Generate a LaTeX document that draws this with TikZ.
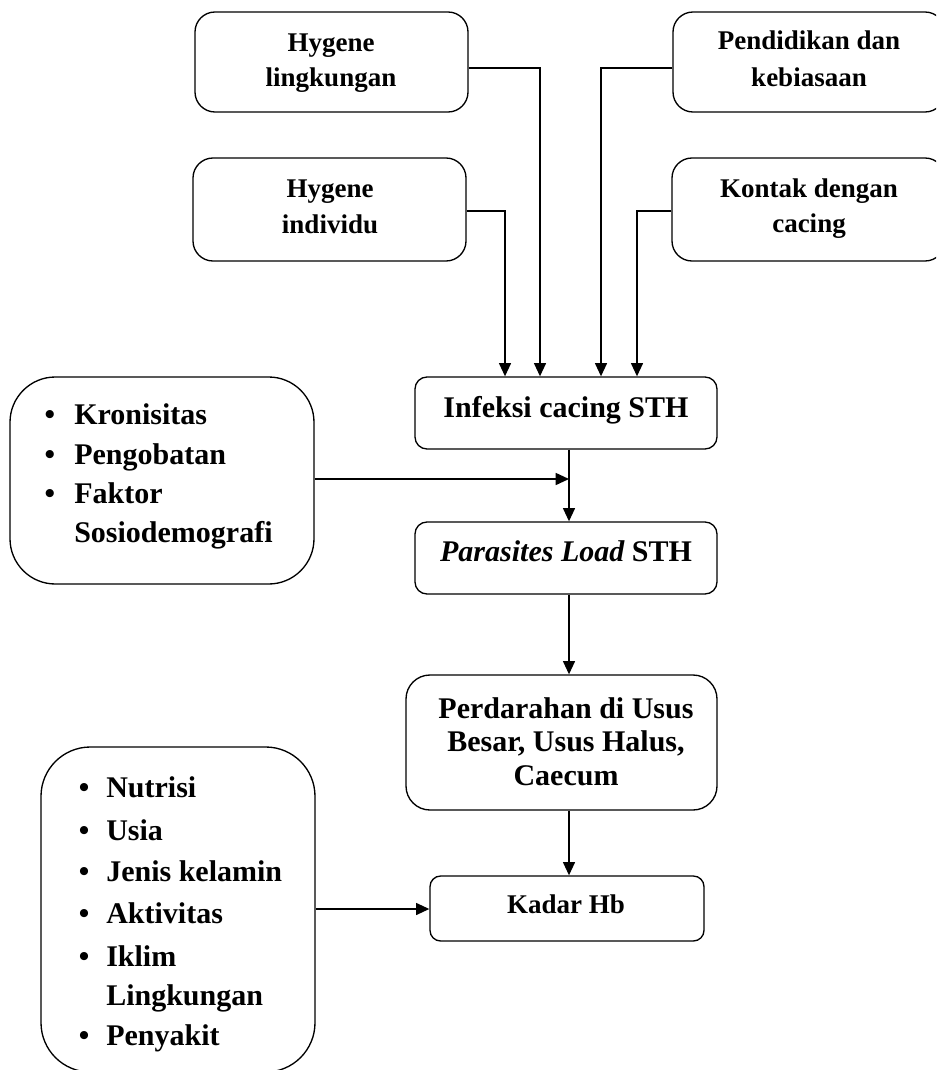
\documentclass[tikz,border=0pt]{standalone}
\usepackage{fontspec}
\setmainfont{Liberation Serif}
\usetikzlibrary{arrows.meta,calc}
\begin{document}
\begin{tikzpicture}[x=0.75pt,y=-0.75pt,
  box/.style={draw,line width=1pt,rounded corners=#1,inner sep=0pt},
  big/.style={font=\fontsize{22.5}{27}\selectfont\bfseries,inner sep=0pt,anchor=base},
  sm/.style={font=\fontsize{20.25}{24}\selectfont\bfseries,inner sep=0pt,anchor=base},
  lst/.style={big,anchor=base west},
  arr/.style={line width=1.2pt,-{Triangle[length=10pt,width=9pt]}}]
\clip (0,0) rectangle (936,1070);
% boxes
\node[box=15pt,minimum width=204.75pt,minimum height=75pt] (hl) at (331.5,62) {};
\node[box=15pt,minimum width=204.75pt,minimum height=77.25pt] (hi) at (329.5,209.5) {};
\node[box=15pt,minimum width=204pt,minimum height=75pt] (pk) at (809,62) {};
\node[box=15pt,minimum width=204.75pt,minimum height=77.25pt] (kc) at (808.5,209.5) {};
\node[box=9pt,minimum width=226.5pt,minimum height=54pt] (inf) at (566,413) {};
\node[box=9pt,minimum width=226.5pt,minimum height=54pt] (par) at (566,558) {};
\node[box=18pt,minimum width=233.25pt,minimum height=101.25pt] (per) at (561.5,742.5) {};
\node[box=8pt,minimum width=205.5pt,minimum height=48.75pt] (kad) at (567,908.5) {};
\node[box=34pt,minimum width=228pt,minimum height=155.25pt] (lb1) at (162,480.5) {};
\node[box=37pt,minimum width=205.5pt,minimum height=243.75pt] (lb2) at (178,909.5) {};
% texts
\node[sm] (t1) at (331,52) {Hygene};
\node[sm] (t2) at (331,87) {lingkungan};
\node[sm] (t3) at (330,197) {Hygene};
\node[sm] (t4) at (330,233) {individu};
\node[sm] (t5) at (809,50) {Pendidikan dan};
\node[sm] (t6) at (809,87) {kebiasaan};
\node[sm] (t7) at (809,197) {Kontak dengan};
\node[sm] (t8) at (809,232) {cacing};
\node[big] (t9) at (566,417) {Infeksi cacing STH};
\node[big] (t10) at (566,561) {\itshape Parasites Load\upshape{} STH};
\node[big] (t11) at (566,718) {Perdarahan di Usus};
\node[big] (t12) at (566,751) {Besar, Usus Halus,};
\node[big] (t13) at (566,785) {Caecum};
\node[sm] (t14) at (566,913) {Kadar Hb};
% list 1
\node[big] (b1) at (50,424) {•};
\node[lst] (l1) at (74,424) {Kronisitas};
\node[big] (b2) at (50,464) {•};
\node[lst] (l2) at (74,464) {Pengobatan};
\node[big] (b3) at (50,503) {•};
\node[lst] (l3) at (74,503) {Faktor};
\node[lst] (l4) at (74,542) {Sosiodemografi};
% list 2
\node[big] (c1) at (84,797) {•};
\node[lst] (m1) at (106,797) {Nutrisi};
\node[big] (c2) at (84,840) {•};
\node[lst] (m2) at (106,840) {Usia};
\node[big] (c3) at (84,881) {•};
\node[lst] (m3) at (106,881) {Jenis kelamin};
\node[big] (c4) at (84,923) {•};
\node[lst] (m4) at (106,923) {Aktivitas};
\node[big] (c5) at (84,966) {•};
\node[lst] (m5) at (106,966) {Iklim};
\node[lst] (m6) at (106,1005) {Lingkungan};
\node[big] (c7) at (84,1045) {•};
\node[lst] (m7) at (106,1045) {Penyakit};
% connectors
\coordinate (x1) at (505,211);
\coordinate (x2) at (540,68);
\coordinate (x3) at (601,68);
\coordinate (x4) at (637,211);
\draw[arr] (hi.east |- x1) -| (inf.north -| x1);
\draw[arr] (hl.east |- x2) -| (inf.north -| x2);
\draw[arr] (pk.west |- x3) -| (inf.north -| x3);
\draw[arr] (kc.west |- x4) -| (inf.north -| x4);
\coordinate (v) at (569,479);
\draw[arr] (inf.south -| v) -- (par.north -| v);
\draw[arr] (lb1.east |- v) -- (v);
\draw[arr] (par.south -| v) -- (per.north -| v);
\draw[arr] (per.south -| v) -- (kad.north -| v);
\coordinate (h2) at (0,909);
\draw[arr] (lb2.east |- h2) -- (kad.west |- h2);
\end{tikzpicture}
\end{document}
